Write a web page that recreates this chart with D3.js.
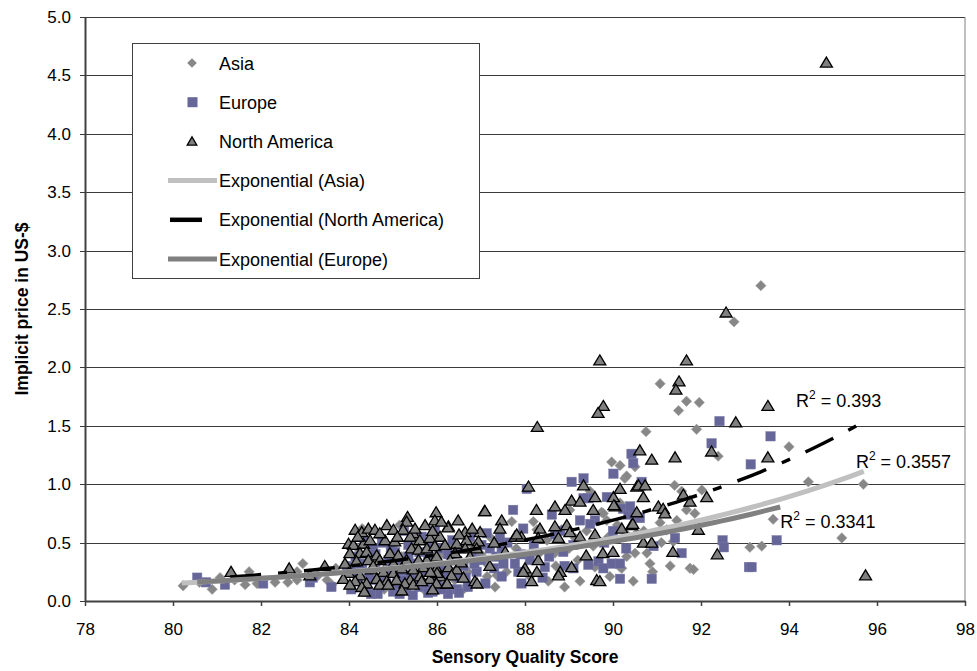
<!DOCTYPE html>
<html>
<head>
<meta charset="utf-8">
<script src="https://cdn.jsdelivr.net/npm/d3@7"></script>
<style>
body { margin: 0; background: #fff; }
text { font-family: "Liberation Sans", Arial, sans-serif; fill: #000; }
</style>
</head>
<body>
<svg width="977" height="671"></svg>
<script>

// [sensory score, implicit price]
var asia = [
  [80.23,0.13],[80.89,0.10],[81.07,0.20],[81.73,0.25],[81.64,0.14],[81.91,0.15],[82.32,0.16],
  [82.61,0.16],[82.82,0.25],[82.95,0.32],[82.82,0.18],[83.61,0.14],[80.6,0.16],[81.4,0.18],
  [84.0,0.28],[84.2,0.45],[84.4,0.15],[84.5,0.35],[84.7,0.55],[84.8,0.10],[84.9,0.30],[85.0,0.47],
  [85.1,0.20],[85.2,0.38],[85.3,0.12],[85.4,0.30],[85.5,0.50],[85.6,0.22],[85.7,0.10],[85.8,0.32],
  [85.9,0.55],[86.0,0.13],[86.1,0.40],[86.2,0.28],[86.3,0.45],[86.4,0.18],[86.5,0.35],[86.6,0.10],
  [86.7,0.25],[86.8,0.48],[86.9,0.15],[87.0,0.40],[84.3,0.62],[85.15,0.65],[83.5,0.18],[83.7,0.28],
  [83.3,0.22],[87.2,0.55],[87.8,0.45],[88.3,0.40],[88.5,0.52],[88.7,0.30],[89.0,0.45],[89.2,0.35],
  [89.4,0.60],[88.9,0.12],[89.9,0.55],[90.1,0.65],[90.7,0.60],[90.9,0.25],[91.1,0.50],[91.3,0.30],
  [89.97,1.19],[90.16,1.16],[90.27,1.05],[90.50,1.15],[89.48,0.94],[89.74,0.76],[89.86,0.69],
  [89.02,0.78],[87.70,0.68],[88.19,0.68],[88.27,0.61],[88.83,0.61],[89.14,0.54],[89.55,0.47],
  [90.31,0.57],[90.54,0.58],[87.13,0.32],[87.36,0.22],[87.32,0.12],[88.11,0.21],[88.53,0.17],
  [89.25,0.17],[89.59,0.29],[89.93,0.21],[90.16,0.29],[90.46,0.17],[90.31,0.38],[90.50,0.41],
  [87.58,0.25],[88.68,0.41],[87.14,0.21],[86.68,0.12],
  [90.77,0.41],[90.84,0.32],[90.20,0.28],[91.37,0.51],[91.67,0.78],[91.86,0.75],[91.45,0.69],
  [91.22,0.61],[91.07,0.67],[91.40,0.99],[91.56,0.94],[92.02,0.95],[91.75,0.28],[91.83,0.27],
  [93.11,0.46],[93.38,0.47],[93.64,0.70],[95.20,0.54],[94.44,1.02],[95.69,1.00],[94.00,1.32],
  [92.39,1.24],[91.90,1.47],[90.75,1.45],[90.31,1.07],[91.07,1.86],[91.67,1.71],[91.96,1.70],
  [91.49,1.63],[93.36,2.70],[92.75,2.39],[89.78,0.75],[90.16,0.84]
];

var europe = [
  [80.55,0.20],[81.18,0.14],[82.05,0.15],[83.11,0.16],[83.18,0.20],[80.75,0.16],[83.6,0.12],
  [84.05,0.10],[84.2,0.20],[84.3,0.28],[84.15,0.38],[84.4,0.08],[84.5,0.18],[84.6,0.30],[84.55,0.45],
  [84.7,0.12],[84.8,0.22],[84.9,0.35],[84.75,0.50],[85.0,0.08],[85.1,0.15],[85.2,0.26],[85.05,0.42],
  [85.3,0.10],[85.4,0.22],[85.5,0.32],[85.35,0.48],[85.6,0.12],[85.7,0.25],[85.8,0.40],[85.9,0.08],
  [86.0,0.18],[86.1,0.30],[86.05,0.45],[86.2,0.12],[86.3,0.25],[86.4,0.38],[86.5,0.20],[86.6,0.30],
  [86.7,0.12],[86.8,0.40],[86.9,0.25],[85.65,0.55],[85.95,0.60],[86.35,0.52],[84.35,0.52],[83.95,0.30],
  [85.25,0.60],[84.95,0.28],[85.75,0.15],[86.15,0.22],[86.45,0.10],[87.0,0.35],[87.2,0.45],[87.3,0.28],
  [86.75,0.55],[84.65,0.06],[85.45,0.05],[86.25,0.06],
  [84.1,0.25],[84.25,0.32],[84.45,0.22],[84.6,0.40],[84.85,0.15],[84.95,0.45],[85.15,0.32],
  [85.25,0.18],[85.35,0.38],[85.55,0.18],[85.6,0.42],[85.85,0.28],[85.9,0.48],[86.1,0.10],
  [86.25,0.40],[86.55,0.45],[86.65,0.20],[86.85,0.32],[87.1,0.15],[87.35,0.38],[87.6,0.50],
  [87.85,0.25],[88.2,0.48],[88.4,0.20],[88.55,0.38],[88.9,0.30],[89.1,0.48],[89.8,0.50],
  [90.0,0.60],[90.3,0.45],[88.8,0.60],[87.9,0.40],[84.5,0.06],[85.15,0.06],[85.8,0.07],[86.5,0.07],
  [90.42,1.26],[90.46,1.18],[90.01,1.09],[89.06,1.02],[89.33,1.05],[87.73,0.78],[88.04,0.96],
  [88.61,0.74],[89.44,0.88],[89.33,0.88],[89.86,0.89],[90.23,0.79],[90.35,0.74],[90.54,0.72],
  [87.13,0.58],[87.43,0.54],[87.96,0.62],[88.68,0.57],[89.25,0.69],[89.59,0.69],[89.48,0.66],
  [87.01,0.48],[87.47,0.46],[87.51,0.32],[87.47,0.21],[87.92,0.15],[88.45,0.29],[89.10,0.28],
  [89.44,0.31],[89.67,0.34],[89.97,0.32],[90.16,0.19],[87.77,0.32],[88.11,0.35],[88.87,0.42],
  [90.39,0.81],[90.65,1.02],[90.61,0.71],[90.92,0.47],[91.41,0.54],[91.56,0.41],[90.16,0.32],
  [90.88,0.19],[89.78,0.28],[92.42,1.54],[93.58,1.41],[92.24,1.35],[93.13,1.17],[93.72,0.52],
  [93.09,0.29],[93.15,0.29],[92.49,0.52],[92.52,0.46]
];

var northAmerica = [
  [81.32,0.25],[82.64,0.28],[83.11,0.22],[83.45,0.30],
  [85.33,0.72],[85.98,0.76],[87.08,0.77],[86.48,0.69],[85.95,0.69],[85.31,0.68],[84.14,0.61],
  [84.29,0.59],[84.44,0.62],[84.59,0.61],[84.86,0.65],[85.01,0.61],[85.23,0.61],[85.46,0.58],
  [85.73,0.65],[86.26,0.64],[86.64,0.59],[86.98,0.59],[83.99,0.49],[84.10,0.48],[84.33,0.49],
  [84.48,0.52],[84.82,0.52],[85.04,0.51],[85.39,0.55],[85.61,0.52],[85.84,0.54],[86.07,0.55],
  [86.45,0.49],[86.67,0.52],[86.94,0.51],[84.02,0.41],[84.25,0.41],[84.40,0.42],[84.63,0.39],
  [84.93,0.41],[85.12,0.39],[85.42,0.45],[85.58,0.44],[85.77,0.45],[85.95,0.47],[86.18,0.48],
  [86.41,0.41],[86.64,0.45],[86.90,0.45],[83.91,0.32],[84.17,0.34],[84.44,0.35],[84.70,0.35],
  [85.01,0.32],[85.31,0.35],[85.58,0.35],[85.77,0.35],[85.99,0.38],[86.30,0.35],[83.99,0.24],
  [84.25,0.22],[84.51,0.27],[84.78,0.25],[85.01,0.24],[85.46,0.27],[85.69,0.29],[85.99,0.28],
  [86.26,0.29],[86.45,0.27],[83.87,0.19],[84.14,0.17],[84.40,0.15],[84.63,0.19],[84.86,0.17],
  [85.08,0.18],[85.39,0.18],[85.61,0.21],[85.84,0.19],[86.07,0.21],[86.33,0.22],[84.02,0.14],
  [84.29,0.12],[84.70,0.14],[84.89,0.14],[85.27,0.15],[85.46,0.14],[85.65,0.17],[85.99,0.15],
  [86.22,0.15],[86.86,0.17],[86.25,0.63],[86.91,0.15],[86.23,0.15],[86.00,0.24],
  [84.2,0.55],[84.7,0.58],[85.1,0.55],[85.5,0.62],[85.9,0.60],[86.1,0.68],[86.5,0.57],[86.8,0.62],
  [84.55,0.30],[85.2,0.28],[85.85,0.25],[86.55,0.33],[86.75,0.38],[84.35,0.08],[85.2,0.09],
  [85.9,0.10],[86.6,0.20],[87.3,0.50],[87.2,0.30],
  [88.28,1.49],[88.08,0.98],[87.09,0.77],[87.47,0.69],[87.43,0.62],[87.77,0.55],[87.92,0.55],
  [88.26,0.78],[88.34,0.62],[88.30,0.54],[88.68,0.81],[88.91,0.78],[89.06,0.86],[89.25,0.85],
  [89.33,0.99],[89.59,0.89],[89.55,0.78],[90.01,0.89],[90.05,0.81],[90.16,0.96],[90.54,0.98],
  [90.54,0.76],[90.20,0.62],[90.42,0.65],[88.68,0.64],[88.95,0.65],[89.02,0.59],[88.76,0.54],
  [89.25,0.55],[89.59,0.57],[87.55,0.42],[88.30,0.35],[88.00,0.28],[87.96,0.25],[88.27,0.25],
  [88.15,0.17],[88.80,0.25],[88.76,0.22],[89.06,0.29],[89.39,0.39],[89.77,0.41],[90.00,0.42],
  [89.63,0.18],[87.81,0.57],
  [89.70,2.06],[91.67,2.06],[91.50,1.88],[91.43,1.81],[89.78,1.67],[89.66,1.61],[93.52,1.67],
  [92.79,1.53],[93.52,1.23],[92.24,1.28],[91.41,1.23],[90.88,1.21],[90.61,1.29],[90.58,0.99],
  [90.73,0.99],[90.69,0.89],[90.02,0.82],[91.03,0.81],[91.14,0.79],[91.18,0.75],[91.60,0.91],
  [91.75,0.85],[92.13,0.89],[91.94,0.61],[90.69,0.50],[90.88,0.50],[91.36,0.42],[92.37,0.40],
  [95.74,0.22],[89.70,0.17],[90.45,0.66],[92.57,2.47],[94.85,4.61]
];

// exponential trendlines, end points: [xStart, yStart, xEnd, yEnd]
var fitAsia = [80.2, 0.154, 95.7, 1.11];
var fitNorthAmerica = [81.3, 0.205, 95.77, 1.55];
var fitEurope = [80.55, 0.163, 93.8, 0.805];

var r2Values = ["0.393", "0.3557", "0.3341"];
var r2Anchors = [[94.16, 1.66], [95.52, 1.14], [93.80, 0.625]];

var xTicks = [78, 80, 82, 84, 86, 88, 90, 92, 94, 96, 98];
var yTicks = [0, 0.5, 1, 1.5, 2, 2.5, 3, 3.5, 4, 4.5, 5];

var legendLabels = ["Asia", "Europe", "North America", "Exponential (Asia)",
                    "Exponential (North America)", "Exponential (Europe)"];

var svg = d3.select("svg");
var plotLeft = 85, plotRight = 965, plotTop = 17, plotBottom = 601;

var x = d3.scaleLinear().domain([78, 98]).range([plotLeft, plotRight]);
var y = d3.scaleLinear().domain([0, 5]).range([plotBottom, plotTop]);

// gridlines
svg.append("g")
    .selectAll("line")
    .data(yTicks)
    .enter().append("line")
    .attr("x1", plotLeft - 5).attr("x2", plotRight)
    .attr("y1", function (d) { return Math.round(y(d)) + 0.5; })
    .attr("y2", function (d) { return Math.round(y(d)) + 0.5; })
    .attr("stroke", "#3a3a3a")
    .attr("stroke-width", 1);

// right border of the plot area
svg.append("line")
    .attr("x1", plotRight).attr("x2", plotRight)
    .attr("y1", plotTop).attr("y2", plotBottom)
    .attr("stroke", "#808080");

// axes
var xAxis = svg.append("g")
    .attr("transform", "translate(0," + plotBottom + ")")
    .call(d3.axisBottom(x).tickValues(xTicks).tickSize(5).tickSizeOuter(0).tickPadding(17)
        .tickFormat(d3.format("d")));
var yAxis = svg.append("g")
    .attr("transform", "translate(" + plotLeft + ",0)")
    .call(d3.axisLeft(y).tickValues(yTicks).tickSize(0).tickSizeOuter(0).tickPadding(14)
        .tickFormat(d3.format(".1f")));
[xAxis, yAxis].forEach(function (g) {
    g.select(".domain").attr("stroke", "#404040").attr("stroke-width", 2);
    g.selectAll(".tick line").attr("stroke", "#404040").attr("stroke-width", 1.5);
    g.selectAll(".tick text").style("font-size", "17px").attr("fill", "#000");
});

// markers
var diamond = "M0,-5.2L5.2,0L0,5.2L-5.2,0Z";
var triangle = "M0,-5.5L6,4.5L-6,4.5Z";

svg.append("g").selectAll("path")
    .data(asia)
    .enter().append("path")
    .attr("d", diamond)
    .attr("transform", function (d) { return "translate(" + x(d[0]) + "," + y(d[1]) + ")"; })
    .attr("fill", "#878787")
    .attr("stroke", "#a0a0a0")
    .attr("stroke-width", 0.6);

svg.append("g").selectAll("rect")
    .data(europe)
    .enter().append("rect")
    .attr("x", function (d) { return x(d[0]) - 4.7; })
    .attr("y", function (d) { return y(d[1]) - 4.7; })
    .attr("width", 9.4).attr("height", 9.4)
    .attr("fill", "#666699")
    .attr("stroke", "#7a7aa8")
    .attr("stroke-width", 0.5);

svg.append("g").selectAll("path")
    .data(northAmerica)
    .enter().append("path")
    .attr("d", triangle)
    .attr("transform", function (d) { return "translate(" + x(d[0]) + "," + y(d[1]) + ")"; })
    .attr("fill", "#808080")
    .attr("stroke", "#000")
    .attr("stroke-width", 1.3);

// trendlines
function expCurve(f) {
    var pts = [];
    for (var i = 0; i <= 60; i++) {
        var xv = f[0] + (f[2] - f[0]) * i / 60;
        pts.push([xv, f[1] * Math.pow(f[3] / f[1], (xv - f[0]) / (f[2] - f[0]))]);
    }
    return pts;
}
var line = d3.line()
    .x(function (d) { return x(d[0]); })
    .y(function (d) { return y(d[1]); });

svg.append("path").datum(expCurve(fitAsia))
    .attr("d", line).attr("fill", "none")
    .attr("stroke", "#c0c0c0").attr("stroke-width", 5);
svg.append("path").datum(expCurve(fitNorthAmerica))
    .attr("d", line).attr("fill", "none")
    .attr("stroke", "#000").attr("stroke-width", 3.5)
    .attr("stroke-dasharray", "31,17,9,17");
svg.append("path").datum(expCurve(fitEurope))
    .attr("d", line).attr("fill", "none")
    .attr("stroke", "#808080").attr("stroke-width", 5);

// R squared labels
r2Values.forEach(function (v, i) {
    var t = svg.append("text")
        .attr("x", x(r2Anchors[i][0]))
        .attr("y", y(r2Anchors[i][1]))
        .style("font-size", "18px");
    t.append("tspan").text("R");
    t.append("tspan").attr("dy", -8).style("font-size", "12px").text("2");
    t.append("tspan").attr("dy", 8).text(" = " + v);
});

// axis titles
svg.append("text")
    .attr("x", (plotLeft + plotRight) / 2)
    .attr("y", 663)
    .attr("text-anchor", "middle")
    .style("font-size", "17.5px")
    .style("font-weight", "bold")
    .text("Sensory Quality Score");

svg.append("text")
    .attr("transform", "translate(28," + ((plotTop + plotBottom) / 2) + ") rotate(-90)")
    .attr("text-anchor", "middle")
    .style("font-size", "17.5px")
    .style("font-weight", "bold")
    .text("Implicit price in US-$");

// legend
var legend = svg.append("g");
legend.append("rect")
    .attr("x", 132.5).attr("y", 43.5)
    .attr("width", 347).attr("height", 235)
    .attr("fill", "#fff")
    .attr("stroke", "#404040");

var rowY = d3.scalePoint().domain(legendLabels).range([63, 259]);

legend.selectAll("text")
    .data(legendLabels)
    .enter().append("text")
    .attr("x", 219)
    .attr("y", function (d) { return rowY(d) + 6.5; })
    .style("font-size", "18px")
    .text(function (d) { return d; });

legend.append("path")
    .attr("d", "M0,-4.8L4.8,0L0,4.8L-4.8,0Z")
    .attr("transform", "translate(192," + rowY(legendLabels[0]) + ")")
    .attr("fill", "#878787");
legend.append("rect")
    .attr("x", 187.5).attr("y", rowY(legendLabels[1]) - 5)
    .attr("width", 10).attr("height", 10)
    .attr("fill", "#666699");
legend.append("path")
    .attr("d", "M0,-4.5L4.8,3.8L-4.8,3.8Z")
    .attr("transform", "translate(192," + rowY(legendLabels[2]) + ")")
    .attr("fill", "#808080").attr("stroke", "#000").attr("stroke-width", 1.3);
legend.append("line")
    .attr("x1", 168).attr("x2", 217)
    .attr("y1", rowY(legendLabels[3])).attr("y2", rowY(legendLabels[3]))
    .attr("stroke", "#c0c0c0").attr("stroke-width", 5);
legend.append("line")
    .attr("x1", 170).attr("x2", 202)
    .attr("y1", rowY(legendLabels[4])).attr("y2", rowY(legendLabels[4]))
    .attr("stroke", "#000").attr("stroke-width", 4.5);
legend.append("line")
    .attr("x1", 168).attr("x2", 217)
    .attr("y1", rowY(legendLabels[5])).attr("y2", rowY(legendLabels[5]))
    .attr("stroke", "#808080").attr("stroke-width", 5);

</script>
</body>
</html>
